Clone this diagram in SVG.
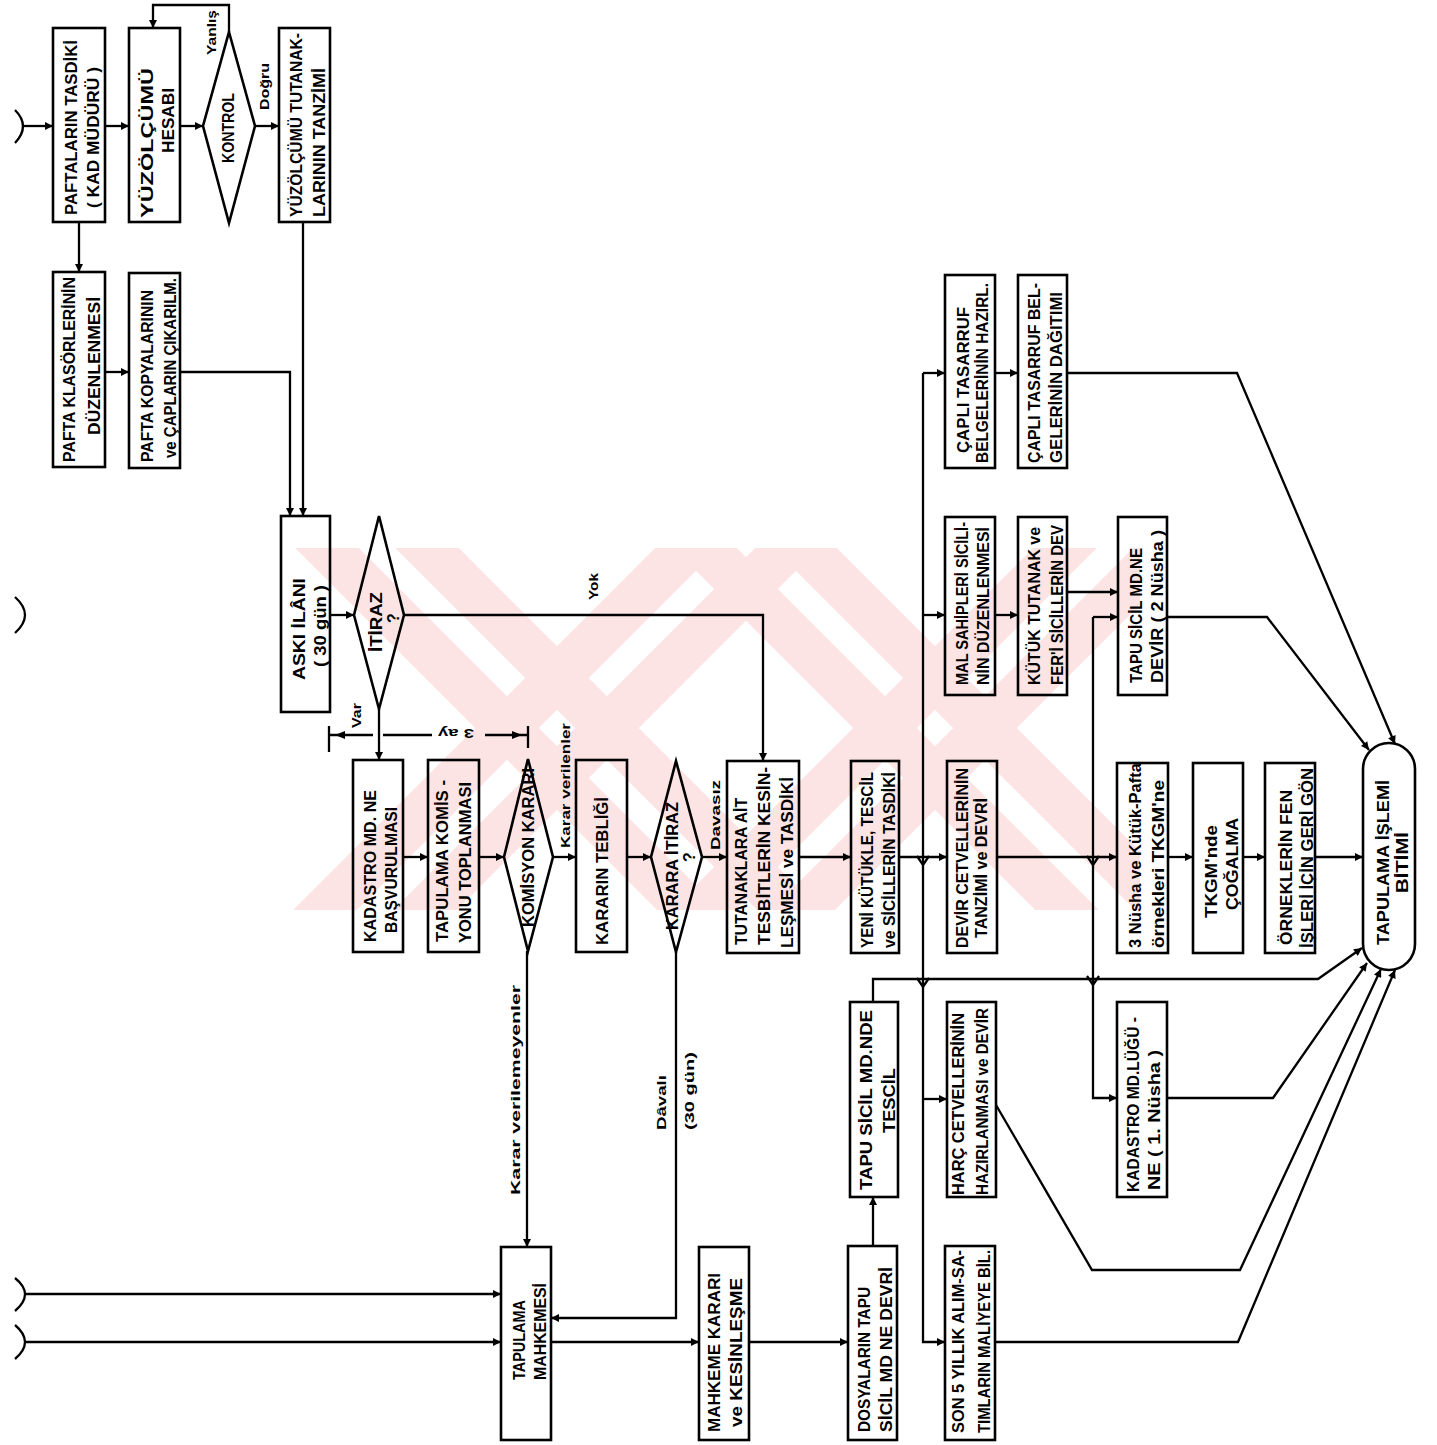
<svg xmlns="http://www.w3.org/2000/svg" width="1437" height="1445" viewBox="0 0 1437 1445">
<defs>
<style>
.box{fill:none;stroke:#000;stroke-width:2.6}
.ln{fill:none;stroke:#000;stroke-width:2.3}
.t{font-family:"Liberation Sans",Arial,sans-serif;font-size:16px;font-weight:bold;fill:#000}
.lb{font-family:"Liberation Sans",Arial,sans-serif;font-size:13px;font-weight:bold;fill:#000}
.ah{fill:#000}
.wm{fill:none;stroke:#fce4e4;stroke-width:45}
</style>
<marker id="ah" viewBox="0 0 10 10" refX="10" refY="5" markerWidth="10" markerHeight="8" markerUnits="userSpaceOnUse" orient="auto"><path d="M0,0 L10,5 L0,10 z"/></marker>
<clipPath id="wmclip"><rect x="233" y="548" width="907" height="362"/></clipPath>
</defs>
<rect width="1437" height="1445" fill="#fff"/>

<g id="watermark" clip-path="url(#wmclip)">
<path class="wm" d="M332,453 L832,953 M282,503 L782,1003 M332,1003 L832,503 M282,953 L782,453"/>
<path class="wm" d="M710,453 L1210,953 M660,503 L1160,1003 M710,1003 L1210,503 M660,953 L1160,453"/>
</g>

<g id="connectors">
<path class="ln" d="M15,110 Q31,126 15,143"/>
<path class="ln" d="M23,126 H53" marker-end="url(#ah)"/>
<path class="ln" d="M105,126 H129" marker-end="url(#ah)"/>
<path class="ln" d="M180,126 H203" marker-end="url(#ah)"/>
<path class="ln" d="M255,126 H279" marker-end="url(#ah)"/>
<path class="ln" d="M229,32 V5 H153 V28" marker-end="url(#ah)"/>
<path class="ln" d="M79,222 V272" marker-end="url(#ah)"/>
<path class="ln" d="M105,372 H129" marker-end="url(#ah)"/>
<path class="ln" d="M180,372 H290 V516" marker-end="url(#ah)"/>
<path class="ln" d="M303,222 V516" marker-end="url(#ah)"/>
<path class="ln" d="M15,597 Q35,615 15,633"/>
<path class="ln" d="M330,615 H354" marker-end="url(#ah)"/>
<path class="ln" d="M404,615 H763 V761" marker-end="url(#ah)"/>
<path class="ln" d="M379,709 V760" marker-end="url(#ah)"/>
<path class="ln" d="M403,857 H428" marker-end="url(#ah)"/>
<path class="ln" d="M479,857 H504" marker-end="url(#ah)"/>
<path class="ln" d="M553,857 H576" marker-end="url(#ah)"/>
<path class="ln" d="M627,857 H651" marker-end="url(#ah)"/>
<path class="ln" d="M702,857 H727" marker-end="url(#ah)"/>
<path class="ln" d="M527,951 V1247" marker-end="url(#ah)"/>
<path class="ln" d="M676,952 V1318 H551" marker-end="url(#ah)"/>
<path class="ln" d="M15,1278 Q35,1294 15,1311"/>
<path class="ln" d="M24,1294 H501" marker-end="url(#ah)"/>
<path class="ln" d="M15,1325 Q35,1342 15,1359"/>
<path class="ln" d="M24,1342 H501" marker-end="url(#ah)"/>
<path class="ln" d="M551,1342 H699" marker-end="url(#ah)"/>
<path class="ln" d="M749,1342 H848" marker-end="url(#ah)"/>
<path class="ln" d="M873,1246 V1197" marker-end="url(#ah)"/>
<path class="ln" d="M873,1002 V979 H1318 L1362,948" marker-end="url(#ah)"/>
<path class="ln" d="M799,857 H851" marker-end="url(#ah)"/>
<path class="ln" d="M899,857 H947" marker-end="url(#ah)"/>
<path class="ln" d="M923,373 V1342 H945" marker-end="url(#ah)"/>
<path class="ln" d="M923,373 H945" marker-end="url(#ah)"/>
<path class="ln" d="M923,615 H945" marker-end="url(#ah)"/>
<path class="ln" d="M923,1099 H947" marker-end="url(#ah)"/>
<path class="ln" d="M995,373 H1018" marker-end="url(#ah)"/>
<path class="ln" d="M1067,373 H1237 L1395,744" marker-end="url(#ah)"/>
<path class="ln" d="M995,615 H1018" marker-end="url(#ah)"/>
<path class="ln" d="M1067,592 H1118" marker-end="url(#ah)"/>
<path class="ln" d="M1093,617 V1098 H1117" marker-end="url(#ah)"/>
<path class="ln" d="M1093,617 H1118" marker-end="url(#ah)"/>
<path class="ln" d="M997,857 H1117" marker-end="url(#ah)"/>
<path class="ln" d="M1167,617 H1267 L1369,750" marker-end="url(#ah)"/>
<path class="ln" d="M1168,857 H1193" marker-end="url(#ah)"/>
<path class="ln" d="M1243,857 H1265" marker-end="url(#ah)"/>
<path class="ln" d="M1315,857 H1363" marker-end="url(#ah)"/>
<path class="ln" d="M1167,1098 H1273 L1367,963" marker-end="url(#ah)"/>
<path class="ln" d="M996,1105 L1092,1270 H1240 L1381,969" marker-end="url(#ah)"/>
<path class="ln" d="M995,1342 H1238 L1395,970" marker-end="url(#ah)"/>
<path class="ln" d="M917,856 L923,865 L929,856 M917,978 L923,987 L929,978 M1087,856 L1093,865 L1099,856 M1087,976 L1093,985 L1099,976"/>
<path class="ln" d="M329,726 V752 M528,726 V748 M329,735 H373 M383,735 H432 M485,735 H528"/>
<path class="ah" d="M335,735 L345,731 L345,739 z M522,735 L512,731 L512,739 z"/>
</g>

<g id="labels">
<text class="lb" transform="translate(216,55) rotate(-90)" textLength="45" lengthAdjust="spacingAndGlyphs">Yanlış</text>
<text class="lb" transform="translate(269,110) rotate(-90)" textLength="47" lengthAdjust="spacingAndGlyphs">Doğru</text>
<text class="lb" transform="translate(598,600) rotate(-90)" textLength="27" lengthAdjust="spacingAndGlyphs">Yok</text>
<text class="lb" transform="translate(361,728) rotate(-90)" textLength="25" lengthAdjust="spacingAndGlyphs">Var</text>
<text class="lb" transform="translate(456,729) rotate(180)" text-anchor="middle" font-size="15" textLength="36" lengthAdjust="spacingAndGlyphs">3 ay</text>
<text class="lb" transform="translate(570,848) rotate(-90)" textLength="125" lengthAdjust="spacingAndGlyphs">Karar verilenler</text>
<text class="lb" transform="translate(720,850) rotate(-90)" textLength="70" lengthAdjust="spacingAndGlyphs">Davasız</text>
<text class="lb" transform="translate(520,1195) rotate(-90)" textLength="210" lengthAdjust="spacingAndGlyphs">Karar verilemeyenler</text>
<text class="lb" transform="translate(666,1130) rotate(-90)" textLength="55" lengthAdjust="spacingAndGlyphs">Dâvalı</text>
<text class="lb" transform="translate(694,1130) rotate(-90)" textLength="78" lengthAdjust="spacingAndGlyphs">(30 gün)</text>
</g>

<g id="n-pafta-tasdik"><rect class="box" x="53" y="28" width="52" height="194"/>
<text class="t" transform="translate(77,215) rotate(-90)" textLength="175" lengthAdjust="spacingAndGlyphs">PAFTALARIN TASDİKİ</text>
<text class="t" transform="translate(99,208) rotate(-90)" textLength="141" lengthAdjust="spacingAndGlyphs">( KAD MÜDÜRÜ )</text></g>

<g id="n-yuzolcum-hesap"><rect class="box" x="129" y="28" width="51" height="194"/>
<text class="t" transform="translate(153,218) rotate(-90)" textLength="150" lengthAdjust="spacingAndGlyphs">YÜZÖLÇÜMÜ</text>
<text class="t" transform="translate(174,153) rotate(-90)" textLength="65" lengthAdjust="spacingAndGlyphs">HESABI</text></g>

<g id="n-kontrol"><polygon class="box" points="229,32 255,126 229,223 203,126"/>
<text class="t" transform="translate(234,163) rotate(-90)" textLength="70" lengthAdjust="spacingAndGlyphs">KONTROL</text></g>

<g id="n-yuzolcum-tutanak"><rect class="box" x="279" y="28" width="51" height="194"/>
<text class="t" transform="translate(302,217) rotate(-90)" textLength="184" lengthAdjust="spacingAndGlyphs">YÜZÖLÇÜMÜ TUTANAK-</text>
<text class="t" transform="translate(325,217) rotate(-90)" textLength="149" lengthAdjust="spacingAndGlyphs">LARININ TANZİMİ</text></g>

<g id="n-pafta-klasor"><rect class="box" x="53" y="272" width="52" height="195"/>
<text class="t" transform="translate(75,462) rotate(-90)" textLength="185" lengthAdjust="spacingAndGlyphs">PAFTA KLASÖRLERİNİN</text>
<text class="t" transform="translate(100,435) rotate(-90)" textLength="138" lengthAdjust="spacingAndGlyphs">DÜZENLENMESİ</text></g>

<g id="n-pafta-kopya"><rect class="box" x="129" y="273" width="51" height="195"/>
<text class="t" transform="translate(153,462) rotate(-90)" textLength="172" lengthAdjust="spacingAndGlyphs">PAFTA KOPYALARININ</text>
<text class="t" transform="translate(176,458) rotate(-90)" textLength="180" lengthAdjust="spacingAndGlyphs">ve ÇAPLARIN ÇIKARILM.</text></g>

<g id="n-aski"><rect class="box" x="281" y="516" width="49" height="196"/>
<text class="t" transform="translate(305,680) rotate(-90)" textLength="102" lengthAdjust="spacingAndGlyphs">ASKI İLÂNI</text>
<text class="t" transform="translate(326,667) rotate(-90)" textLength="82" lengthAdjust="spacingAndGlyphs">( 30 gün )</text></g>

<g id="n-itiraz"><polygon class="box" points="379,516 404,615 379,709 354,615"/>
<text class="t" transform="translate(382,652) rotate(-90)" textLength="60" lengthAdjust="spacingAndGlyphs">İTİRAZ</text>
<text class="t" transform="translate(399,618) rotate(-90)" text-anchor="middle">?</text></g>

<g id="n-kadastro-basvuru"><rect class="box" x="353" y="760" width="50" height="192"/>
<text class="t" transform="translate(376,942) rotate(-90)" textLength="152" lengthAdjust="spacingAndGlyphs">KADASTRO MD. NE</text>
<text class="t" transform="translate(397,933) rotate(-90)" textLength="126" lengthAdjust="spacingAndGlyphs">BAŞVURULMASI</text></g>

<g id="n-komisyon-toplanma"><rect class="box" x="428" y="760" width="51" height="192"/>
<text class="t" transform="translate(448,942) rotate(-90)" textLength="162" lengthAdjust="spacingAndGlyphs">TAPULAMA KOMİS -</text>
<text class="t" transform="translate(471,943) rotate(-90)" textLength="161" lengthAdjust="spacingAndGlyphs">YONU TOPLANMASI</text></g>

<g id="n-komisyon-karari"><polygon class="box" points="528,759 553,857 528,951 504,857"/>
<text class="t" transform="translate(534,927) rotate(-90)" textLength="159" lengthAdjust="spacingAndGlyphs">KOMİSYON KARARI</text></g>

<g id="n-karar-teblig"><rect class="box" x="576" y="760" width="51" height="192"/>
<text class="t" transform="translate(608,945) rotate(-90)" textLength="148" lengthAdjust="spacingAndGlyphs">KARARIN TEBLİĞİ</text></g>

<g id="n-karara-itiraz"><polygon class="box" points="676,761 702,857 676,952 651,857"/>
<text class="t" transform="translate(678,930) rotate(-90)" textLength="128" lengthAdjust="spacingAndGlyphs">KARARA İTİRAZ</text>
<text class="t" transform="translate(695,857) rotate(-90)" text-anchor="middle">?</text></g>

<g id="n-tutanaklar-kesin"><rect class="box" x="727" y="761" width="72" height="192"/>
<text class="t" transform="translate(747,945) rotate(-90)" textLength="147" lengthAdjust="spacingAndGlyphs">TUTANAKLARA AİT</text>
<text class="t" transform="translate(770,945) rotate(-90)" textLength="178" lengthAdjust="spacingAndGlyphs">TESBİTLERİN KESİN-</text>
<text class="t" transform="translate(793,948) rotate(-90)" textLength="171" lengthAdjust="spacingAndGlyphs">LEŞMESİ ve TASDİKİ</text></g>

<g id="n-yeni-kutuk"><rect class="box" x="851" y="761" width="48" height="192"/>
<text class="t" transform="translate(873,948) rotate(-90)" textLength="176" lengthAdjust="spacingAndGlyphs">YENİ KÜTÜKLE, TESCİL</text>
<text class="t" transform="translate(895,948) rotate(-90)" textLength="176" lengthAdjust="spacingAndGlyphs">ve SİCİLLERİN TASDİKİ</text></g>

<g id="n-devir-cetvel"><rect class="box" x="947" y="761" width="50" height="192"/>
<text class="t" transform="translate(968,948) rotate(-90)" textLength="180" lengthAdjust="spacingAndGlyphs">DEVİR CETVELLERİNİN</text>
<text class="t" transform="translate(987,938) rotate(-90)" textLength="140" lengthAdjust="spacingAndGlyphs">TANZİMİ ve DEVRİ</text></g>

<g id="n-capli-hazirl"><rect class="box" x="945" y="275" width="50" height="193"/>
<text class="t" transform="translate(969,453) rotate(-90)" textLength="146" lengthAdjust="spacingAndGlyphs">ÇAPLI TASARRUF</text>
<text class="t" transform="translate(988,463) rotate(-90)" textLength="180" lengthAdjust="spacingAndGlyphs">BELGELERİNİN HAZIRL.</text></g>

<g id="n-capli-dagitim"><rect class="box" x="1018" y="275" width="49" height="193"/>
<text class="t" transform="translate(1040,463) rotate(-90)" textLength="180" lengthAdjust="spacingAndGlyphs">ÇAPLI TASARRUF BEL-</text>
<text class="t" transform="translate(1062,463) rotate(-90)" textLength="171" lengthAdjust="spacingAndGlyphs">GELERİNİN DAĞITIMI</text></g>

<g id="n-mal-sahipleri"><rect class="box" x="945" y="517" width="50" height="178"/>
<text class="t" transform="translate(968,685) rotate(-90)" textLength="163" lengthAdjust="spacingAndGlyphs">MAL SAHİPLERİ SİCİLİ-</text>
<text class="t" transform="translate(989,685) rotate(-90)" textLength="158" lengthAdjust="spacingAndGlyphs">NİN DÜZENLENMESİ</text></g>

<g id="n-kutuk-tutanak"><rect class="box" x="1018" y="517" width="49" height="178"/>
<text class="t" transform="translate(1040,685) rotate(-90)" textLength="158" lengthAdjust="spacingAndGlyphs">KÜTÜK TUTANAK ve</text>
<text class="t" transform="translate(1063,685) rotate(-90)" textLength="160" lengthAdjust="spacingAndGlyphs">FER'İ SİCİLLERİN DEV</text></g>

<g id="n-tapu-sicil-devir"><rect class="box" x="1118" y="517" width="49" height="178"/>
<text class="t" transform="translate(1142,683) rotate(-90)" textLength="135" lengthAdjust="spacingAndGlyphs">TAPU SİCİL MD.NE</text>
<text class="t" transform="translate(1163,683) rotate(-90)" textLength="153" lengthAdjust="spacingAndGlyphs">DEVİR ( 2 Nüsha )</text></g>

<g id="n-uc-nusha"><rect class="box" x="1117" y="763" width="51" height="190"/>
<text class="t" transform="translate(1141,948) rotate(-90)" textLength="185" lengthAdjust="spacingAndGlyphs">3 Nüsha ve Kütük-Pafta</text>
<text class="t" transform="translate(1164,948) rotate(-90)" textLength="168" lengthAdjust="spacingAndGlyphs">örnekleri TKGM'ne</text></g>

<g id="n-tkgm-cogalma"><rect class="box" x="1193" y="763" width="50" height="190"/>
<text class="t" transform="translate(1217,918) rotate(-90)" textLength="93" lengthAdjust="spacingAndGlyphs">TKGM'nde</text>
<text class="t" transform="translate(1238,910) rotate(-90)" textLength="92" lengthAdjust="spacingAndGlyphs">ÇOĞALMA</text></g>

<g id="n-ornekler"><rect class="box" x="1265" y="763" width="50" height="190"/>
<text class="t" transform="translate(1292,945) rotate(-90)" textLength="155" lengthAdjust="spacingAndGlyphs">ÖRNEKLERİN FEN</text>
<text class="t" transform="translate(1313,948) rotate(-90)" textLength="180" lengthAdjust="spacingAndGlyphs">İŞLERİ İÇİN GERİ GÖN</text></g>

<g id="n-bitimi"><rect class="box" x="1363" y="743" width="52" height="227" rx="26" ry="26"/>
<text class="t" transform="translate(1389,945) rotate(-90)" textLength="165" lengthAdjust="spacingAndGlyphs">TAPULAMA İŞLEMİ</text>
<text class="t" transform="translate(1408,893) rotate(-90)" textLength="61" lengthAdjust="spacingAndGlyphs">BİTİMİ</text></g>

<g id="n-harc"><rect class="box" x="947" y="1002" width="49" height="195"/>
<text class="t" transform="translate(964,1195) rotate(-90)" textLength="182" lengthAdjust="spacingAndGlyphs">HARÇ CETVELLERİNİN</text>
<text class="t" transform="translate(988,1195) rotate(-90)" textLength="187" lengthAdjust="spacingAndGlyphs">HAZIRLANMASI ve DEVİR</text></g>

<g id="n-kadastro-mudurluk"><rect class="box" x="1117" y="1002" width="50" height="195"/>
<text class="t" transform="translate(1139,1192) rotate(-90)" textLength="175" lengthAdjust="spacingAndGlyphs">KADASTRO MD.LÜĞÜ -</text>
<text class="t" transform="translate(1160,1190) rotate(-90)" textLength="140" lengthAdjust="spacingAndGlyphs">NE ( 1. Nüsha )</text></g>

<g id="n-tapu-tescil"><rect class="box" x="850" y="1002" width="48" height="195"/>
<text class="t" transform="translate(872,1190) rotate(-90)" textLength="180" lengthAdjust="spacingAndGlyphs">TAPU SİCİL MD.NDE</text>
<text class="t" transform="translate(895,1133) rotate(-90)" textLength="65" lengthAdjust="spacingAndGlyphs">TESCİL</text></g>

<g id="n-mahkeme"><rect class="box" x="501" y="1247" width="50" height="193"/>
<text class="t" transform="translate(525,1380) rotate(-90)" textLength="80" lengthAdjust="spacingAndGlyphs">TAPULAMA</text>
<text class="t" transform="translate(546,1380) rotate(-90)" textLength="97" lengthAdjust="spacingAndGlyphs">MAHKEMESİ</text></g>

<g id="n-mahkeme-karari"><rect class="box" x="699" y="1247" width="50" height="193"/>
<text class="t" transform="translate(720,1432) rotate(-90)" textLength="159" lengthAdjust="spacingAndGlyphs">MAHKEME KARARI</text>
<text class="t" transform="translate(742,1427) rotate(-90)" textLength="149" lengthAdjust="spacingAndGlyphs">ve KESİNLEŞME</text></g>

<g id="n-dosyalar"><rect class="box" x="848" y="1246" width="49" height="194"/>
<text class="t" transform="translate(870,1432) rotate(-90)" textLength="145" lengthAdjust="spacingAndGlyphs">DOSYALARIN TAPU</text>
<text class="t" transform="translate(892,1432) rotate(-90)" textLength="165" lengthAdjust="spacingAndGlyphs">SİCİL MD NE DEVRİ</text></g>

<g id="n-son-bes-yil"><rect class="box" x="945" y="1246" width="50" height="194"/>
<text class="t" transform="translate(964,1433) rotate(-90)" textLength="183" lengthAdjust="spacingAndGlyphs">SON 5 YILLIK ALIM-SA-</text>
<text class="t" transform="translate(990,1433) rotate(-90)" textLength="183" lengthAdjust="spacingAndGlyphs">TIMLARIN MALİYEYE BİL.</text></g>
</svg>
